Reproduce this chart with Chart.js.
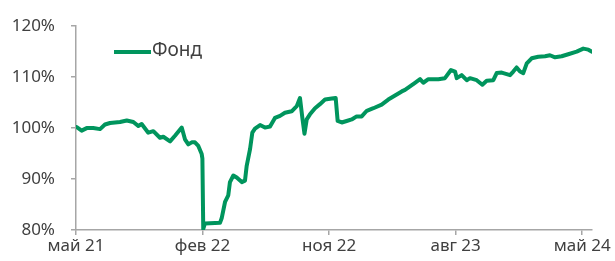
<!DOCTYPE html>
<html>
<head>
<meta charset="utf-8">
<script src="https://cdn.jsdelivr.net/npm/chart.js@4/dist/chart.umd.min.js"></script>
<style>
  html, body { margin: 0; padding: 0; background: #fff; }
  #wrap { width: 615px; height: 261px; }
</style>
</head>
<body>
<div id="wrap"><canvas id="chart" width="615" height="261"></canvas></div>
<script>
// months since May 2021
const months = [
  0.05, 0.40, 0.76, 1.23, 1.71, 2.06, 2.42, 3.13, 3.61, 4.08, 4.43, 4.67,
  5.14, 5.50, 5.97, 6.21, 6.69, 7.04, 7.52, 7.75, 7.99, 8.23, 8.46, 8.70,
  8.94, 8.99, 9.05, 9.17, 10.24, 10.36, 10.60, 10.83, 10.95, 11.19, 11.43, 11.79,
  12.02, 12.14, 12.38, 12.54, 12.73, 13.09, 13.44, 13.80, 14.15, 14.51, 14.86, 15.34,
  15.70, 15.93, 16.10, 16.25, 16.41, 16.64, 17.00, 17.35, 17.71, 18.19, 18.47, 18.61,
  18.90, 19.25, 19.61, 19.96, 20.32, 20.68, 21.15, 21.74, 22.21, 22.69, 23.17, 23.40,
  24.11, 24.47, 24.70, 25.06, 25.77, 26.24, 26.67, 26.96, 27.08, 27.43, 27.79, 28.02,
  28.50, 28.90, 29.21, 29.68, 29.92, 30.28, 30.87, 31.10, 31.34, 31.58, 31.81, 32.06,
  32.41, 32.88, 33.36, 33.71, 34.07, 34.54, 35.01, 35.61, 36.08, 36.44, 36.70
];
const fund = [
  100.2, 99.5, 100.0, 100.0, 99.8, 100.7, 101.0, 101.2, 101.5, 101.2, 100.4, 100.8,
  99.1, 99.4, 98.1, 98.3, 97.4, 98.5, 100.1, 97.8, 96.8, 97.2, 97.2, 96.5,
  94.9, 94.0, 80.2, 81.3, 81.4, 82.3, 85.5, 86.8, 89.4, 90.7, 90.3, 89.4,
  89.7, 92.6, 95.9, 99.1, 99.9, 100.6, 100.1, 100.3, 102.0, 102.4, 103.0, 103.3,
  104.3, 105.9, 102.0, 98.9, 101.7, 102.7, 103.9, 104.7, 105.6, 105.8, 105.9, 101.4,
  101.1, 101.4, 101.7, 102.3, 102.3, 103.4, 103.9, 104.6, 105.6, 106.4, 107.2, 107.5,
  108.9, 109.6, 108.9, 109.6, 109.6, 109.8, 111.4, 111.1, 109.8, 110.4, 109.4, 109.8,
  109.4, 108.5, 109.3, 109.4, 110.8, 110.9, 110.4, 111.1, 111.9, 111.1, 110.8, 112.7,
  113.7, 114.0, 114.1, 114.3, 113.9, 114.1, 114.5, 115.0, 115.6, 115.4, 115.0
];
const tickMonths = [0, 9, 18, 27, 36];
const tickLabels = ['май 21', 'фев 22', 'ноя 22', 'авг 23', 'май 24'];

const green = '#00955d';
const textColor = '#404040';
const axisColor = '#a6a6a6';
const font = { family: '"Noto Sans", sans-serif', size: 17 };

const insideLegend = {
  id: 'insideLegend',
  afterDraw(chart) {
    const ctx = chart.ctx;
    const ds = chart.data.datasets[0];
    ctx.save();
    ctx.strokeStyle = ds.borderColor;
    ctx.lineWidth = 4;
    ctx.beginPath();
    ctx.moveTo(114, 52);
    ctx.lineTo(151, 52);
    ctx.stroke();
    ctx.fillStyle = textColor;
    ctx.font = '19px ' + font.family;
    ctx.textBaseline = 'middle';
    ctx.fillText(ds.label, 152, 51);
    ctx.restore();
  }
};

new Chart(document.getElementById('chart'), {
  type: 'line',
  data: {
    datasets: [{
      label: 'Фонд',
      data: months.map((m, i) => ({ x: m, y: fund[i] })),
      borderColor: green,
      borderWidth: 4,
      pointRadius: 0,
      tension: 0,
      borderJoinStyle: 'round',
      borderCapStyle: 'round'
    }]
  },
  options: {
    responsive: false,
    animation: false,
    layout: { padding: { top: 24, right: 23, left: 0, bottom: 0 } },
    plugins: { legend: { display: false }, tooltip: { enabled: false } },
    scales: {
      x: {
        type: 'linear',
        min: 0,
        max: 36.7,
        afterBuildTicks: s => { s.ticks = tickMonths.map(v => ({ value: v })); },
        afterFit: s => { s.height = 31; },
        ticks: {
          color: textColor,
          font,
          padding: 1,
          maxRotation: 0,
          autoSkip: false,
          callback: (v) => tickLabels[tickMonths.indexOf(v)]
        },
        border: { color: axisColor, width: 1.5 },
        grid: { drawOnChartArea: false, drawTicks: true, tickLength: 5, color: axisColor, lineWidth: 1.5 }
      },
      y: {
        min: 80,
        max: 120,
        afterFit: s => { s.width = 76; },
        ticks: {
          stepSize: 10,
          color: textColor,
          font,
          padding: 16,
          callback: v => v + '%'
        },
        border: { color: axisColor, width: 1.5 },
        grid: { drawOnChartArea: false, drawTicks: true, tickLength: 5, color: axisColor, lineWidth: 1.5 }
      }
    }
  },
  plugins: [insideLegend]
});
</script>
</body>
</html>
